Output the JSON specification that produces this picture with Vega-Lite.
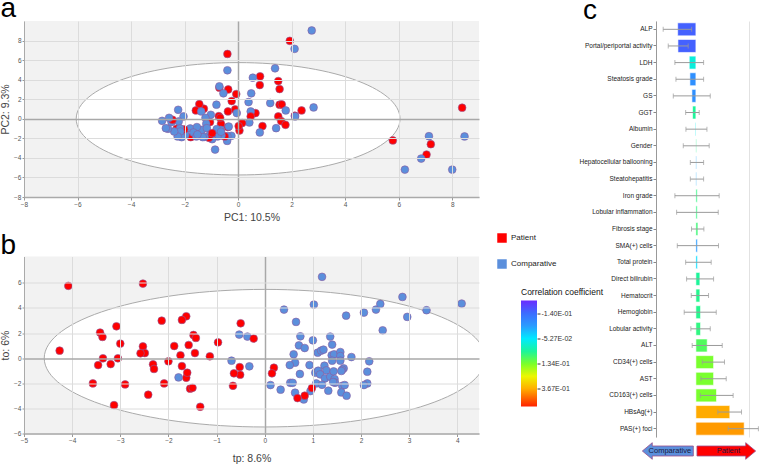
{
"$schema": "https://vega.github.io/schema/vega-lite/v6.json",
"autosize": "none",
"padding": {"left": 24, "top": 21, "right": 736, "bottom": 443},
"background": "white",
"config": {
  "font": "Liberation Sans",
  "view": {"stroke": null},
  "axis": {"labelFont": "Liberation Sans", "titleFont": "Liberation Sans", "titleFontWeight": "normal", "labelColor": "#555555", "titleColor": "#444444", "labelOverlap": false},
  "axisY": {"labelOverlap": false},
  "axisQuantitative": {"labelOverlap": false},
  "title": {"font": "Liberation Sans", "fontWeight": "normal", "color": "#000000"},
  "legend": {"labelFont": "Liberation Sans"}
},
"bounds": "flush",
"spacing": 632,
"hconcat": [
 {
  "bounds": "flush",
  "spacing": 59.5,
  "vconcat": [
   {
    "width": 455, "height": 176,
    "view": {"fill": "#f2f2f2", "stroke": null},
    "title": {"text": "a", "fontSize": 28, "anchor": "start", "frame": "bounds", "offset": 2, "dy": 26.3, "baseline": "alphabetic"},
    "encoding": {
     "x": {"field": "x", "type": "quantitative", "scale": {"domain": [-8, 9], "nice": false, "zero": false},
           "axis": {"values": [-8,-6,-4,-2,0,2,4,6,8], "title": "PC1: 10.5%", "titleFontSize": 10.5, "titlePadding": 5, "labelFontSize": 6.5, "labelPadding": 1, "tickSize": 3, "tickColor": "#999999", "domainColor": "#aaaaaa", "domainWidth": 1.5, "grid": true, "gridColor": {"condition": {"test": "datum.value === 0", "value": "#a8a8a8"}, "value": "#dcdcdc"}, "gridWidth": {"condition": {"test": "datum.value === 0", "value": 1.5}, "value": 1}, "labelFlush": false, "labelOverlap": false, "zindex": 1}},
     "y": {"field": "y", "type": "quantitative", "scale": {"domain": [-8, 10], "nice": false, "zero": false},
           "axis": {"values": [-8,-6,-4,-2,0,2,4,6,8], "title": "PC2: 9.3%", "titleFontSize": 10.5, "titlePadding": 3, "labelFontSize": 6.5, "labelPadding": 1, "tickSize": 2, "tickColor": "#999999", "domainColor": "#aaaaaa", "domainWidth": 1, "grid": true, "gridColor": {"condition": {"test": "datum.value === 0", "value": "#a8a8a8"}, "value": "#dcdcdc"}, "gridWidth": {"condition": {"test": "datum.value === 0", "value": 1.5}, "value": 1}, "labelFlush": false, "labelOverlap": false, "labelSeparation": 0, "zindex": 1}}
    },
    "layer": [
     {
      "data": {"values": [{"x": 0, "y": 0}]},
      "mark": {"type": "point", "shape": "M -1 0 C -1 -0.1917 -0.5523 -0.347 0 -0.347 C 0.5523 -0.347 1 -0.1917 1 0 C 1 0.1917 0.5523 0.347 0 0.347 C -0.5523 0.347 -1 0.1917 -1 0 Z", "size": 104846, "filled": true, "fill": "#ffffff", "stroke": "#aaaaaa", "strokeWidth": 1, "opacity": 1, "clip": true, "zindex": 0}
     },
     {
      "data": {"values": [
{"x":2.75,"y":9.03,"group":"Comparative"},{"x":1.93,"y":7.97,"group":"Patient"},{"x":2.11,"y":7.15,"group":"Comparative"},{"x":-0.40,"y":6.63,"group":"Patient"},
{"x":-0.40,"y":4.96,"group":"Comparative"},{"x":1.38,"y":5.16,"group":"Comparative"},{"x":0.82,"y":4.34,"group":"Patient"},{"x":0.55,"y":4.20,"group":"Comparative"},
{"x":1.50,"y":3.86,"group":"Patient"},{"x":1.55,"y":3.04,"group":"Patient"},{"x":0.81,"y":3.45,"group":"Patient"},{"x":0.49,"y":2.60,"group":"Comparative"},
{"x":-0.07,"y":2.53,"group":"Patient"},{"x":-0.70,"y":3.18,"group":"Patient"},{"x":-0.70,"y":3.32,"group":"Comparative"},{"x":-0.37,"y":3.00,"group":"Patient"},
{"x":-0.55,"y":2.60,"group":"Comparative"},{"x":-0.24,"y":1.81,"group":"Patient"},{"x":0.39,"y":1.71,"group":"Comparative"},{"x":1.20,"y":1.61,"group":"Comparative"},
{"x":1.55,"y":1.44,"group":"Patient"},{"x":1.63,"y":1.47,"group":"Patient"},{"x":1.78,"y":0.85,"group":"Comparative"},{"x":2.37,"y":0.85,"group":"Patient"},
{"x":2.82,"y":1.16,"group":"Comparative"},{"x":2.12,"y":0.31,"group":"Patient"},{"x":2.13,"y":0.24,"group":"Comparative"},{"x":1.50,"y":0.24,"group":"Patient"},
{"x":1.61,"y":-0.24,"group":"Patient"},{"x":1.77,"y":-0.62,"group":"Patient"},{"x":1.42,"y":-0.96,"group":"Comparative"},{"x":0.91,"y":-0.75,"group":"Patient"},
{"x":0.81,"y":-1.40,"group":"Comparative"},{"x":0.65,"y":0.58,"group":"Patient"},{"x":0.47,"y":0.75,"group":"Comparative"},{"x":0.47,"y":0.24,"group":"Patient"},
{"x":0.42,"y":-0.38,"group":"Comparative"},{"x":-0.11,"y":0.96,"group":"Patient"},{"x":-0.05,"y":0.58,"group":"Comparative"},{"x":0.15,"y":-0.44,"group":"Patient"},
{"x":0.05,"y":-1.20,"group":"Patient"},{"x":0.02,"y":-0.75,"group":"Patient"},{"x":-0.38,"y":0.75,"group":"Patient"},{"x":-0.72,"y":0.27,"group":"Patient"},
{"x":-0.64,"y":-0.51,"group":"Patient"},{"x":-0.38,"y":-0.85,"group":"Patient"},{"x":-0.35,"y":-0.79,"group":"Comparative"},{"x":-0.25,"y":-1.74,"group":"Comparative"},
{"x":-0.40,"y":-1.78,"group":"Comparative"},{"x":-0.41,"y":-2.26,"group":"Comparative"},{"x":-0.50,"y":-1.81,"group":"Patient"},{"x":-0.65,"y":-1.13,"group":"Comparative"},
{"x":-0.80,"y":-1.06,"group":"Comparative"},{"x":-0.62,"y":-1.71,"group":"Comparative"},{"x":-0.77,"y":-1.81,"group":"Comparative"},{"x":-0.81,"y":1.44,"group":"Comparative"},
{"x":-1.05,"y":-0.34,"group":"Patient"},{"x":-1.02,"y":0.41,"group":"Comparative"},{"x":-1.22,"y":0.10,"group":"Comparative"},{"x":-1.28,"y":1.03,"group":"Patient"},
{"x":-1.45,"y":1.50,"group":"Patient"},{"x":-1.58,"y":0.85,"group":"Patient"},{"x":-1.38,"y":0.75,"group":"Comparative"},{"x":-1.19,"y":-0.51,"group":"Comparative"},
{"x":-1.42,"y":-1.16,"group":"Patient"},{"x":-1.35,"y":-1.13,"group":"Comparative"},{"x":-1.17,"y":-0.96,"group":"Comparative"},{"x":-0.86,"y":-3.15,"group":"Comparative"},
{"x":-0.97,"y":-2.09,"group":"Comparative"},{"x":-1.05,"y":-1.61,"group":"Comparative"},{"x":-1.09,"y":-1.95,"group":"Patient"},{"x":-1.25,"y":-1.85,"group":"Comparative"},
{"x":-1.62,"y":-1.37,"group":"Comparative"},{"x":-1.77,"y":-1.88,"group":"Patient"},{"x":-1.79,"y":-0.99,"group":"Comparative"},{"x":-1.97,"y":-1.64,"group":"Comparative"},
{"x":-2.02,"y":-1.09,"group":"Patient"},{"x":-2.11,"y":-1.88,"group":"Comparative"},{"x":-2.04,"y":0.24,"group":"Comparative"},{"x":-2.30,"y":-1.03,"group":"Patient"},
{"x":-2.24,"y":0.92,"group":"Comparative"},{"x":-2.22,"y":-0.27,"group":"Comparative"},{"x":-2.17,"y":-0.99,"group":"Comparative"},{"x":-2.16,"y":-1.30,"group":"Comparative"},
{"x":-2.26,"y":-1.81,"group":"Comparative"},{"x":-2.39,"y":-1.30,"group":"Comparative"},{"x":-2.49,"y":-0.34,"group":"Comparative"},{"x":-2.45,"y":-0.10,"group":"Patient"},
{"x":-2.58,"y":0.10,"group":"Comparative"},{"x":-2.62,"y":-1.03,"group":"Comparative"},{"x":-2.70,"y":-0.96,"group":"Comparative"},{"x":-2.84,"y":-0.21,"group":"Comparative"},
{"x":-1.54,"y":-0.85,"group":"Comparative"},{"x":-1.67,"y":-1.40,"group":"Comparative"},{"x":-1.56,"y":-1.81,"group":"Comparative"},{"x":-1.32,"y":-1.88,"group":"Comparative"},
{"x":-1.52,"y":-1.61,"group":"Comparative"},{"x":-0.97,"y":-1.47,"group":"Patient"},{"x":-0.67,"y":0.10,"group":"Patient"},{"x":-0.64,"y":-1.33,"group":"Comparative"},
{"x":5.78,"y":-2.22,"group":"Patient"},{"x":6.23,"y":-5.20,"group":"Comparative"},{"x":7.13,"y":-1.78,"group":"Comparative"},{"x":7.20,"y":-2.60,"group":"Patient"},
{"x":7.04,"y":-3.66,"group":"Patient"},{"x":6.84,"y":-4.07,"group":"Comparative"},{"x":8.00,"y":-5.20,"group":"Comparative"},{"x":8.37,"y":1.13,"group":"Patient"},
{"x":8.46,"y":-1.81,"group":"Comparative"}
      ]},
      "mark": {"type": "circle", "size": 60, "opacity": 1, "stroke": "#8d5a9e", "strokeWidth": 0.6, "zindex": 3},
      "encoding": {
       "color": {"field": "group", "type": "nominal", "scale": {"domain": ["Patient", "Comparative"], "range": ["#ff0000", "#5b8fdc"]},
                 "legend": {"orient": "none", "legendX": 473, "legendY": 212, "title": null, "symbolType": "square", "symbolSize": 90, "symbolStrokeWidth": 0, "labelFontSize": 8, "labelColor": "#222222", "rowPadding": 16, "padding": 0, "labelOffset": 4}}
      }
     }
    ]
   },
   {
    "bounds": "flush",
    "spacing": 42,
    "hconcat": [
     {
      "width": 455, "height": 177,
      "view": {"fill": "#f2f2f2", "stroke": null},
      "title": {"text": "b", "fontSize": 28, "anchor": "start", "frame": "bounds", "offset": 2, "dy": 27.5, "baseline": "alphabetic"},
      "encoding": {
       "x": {"field": "x", "type": "quantitative", "scale": {"domain": [-5, 4.45], "nice": false, "zero": false},
             "axis": {"values": [-5,-4,-3,-2,-1,0,1,2,3,4], "title": "tp: 8.6%", "titleFontSize": 10.5, "titlePadding": 9, "labelFontSize": 6.5, "labelPadding": 1, "tickSize": 3, "tickColor": "#999999", "domainColor": "#aaaaaa", "domainWidth": 1.5, "grid": true, "gridColor": {"condition": {"test": "datum.value === 0", "value": "#a8a8a8"}, "value": "#dcdcdc"}, "gridWidth": {"condition": {"test": "datum.value === 0", "value": 1.5}, "value": 1}, "labelFlush": false, "labelOverlap": false, "zindex": 1}},
       "y": {"field": "y", "type": "quantitative", "scale": {"domain": [-6, 8.1], "nice": false, "zero": false},
             "axis": {"values": [-6,-4,-2,0,2,4,6], "title": "to: 6%", "titleFontSize": 10.5, "titlePadding": 3, "labelFontSize": 6.5, "labelPadding": 1, "tickSize": 2, "tickColor": "#999999", "domainColor": "#aaaaaa", "domainWidth": 1, "grid": true, "gridColor": {"condition": {"test": "datum.value === 0", "value": "#a8a8a8"}, "value": "#dcdcdc"}, "gridWidth": {"condition": {"test": "datum.value === 0", "value": 1.5}, "value": 1}, "labelFlush": false, "labelOverlap": false, "labelSeparation": 0, "zindex": 1}}
      },
      "layer": [
       {
        "data": {"values": [{"x": 0, "y": 0}]},
        "mark": {"type": "point", "shape": "M -1 0 C -1 -0.1723 -0.5523 -0.312 0 -0.312 C 0.5523 -0.312 1 -0.1723 1 0 C 1 0.1723 0.5523 0.312 0 0.312 C -0.5523 0.312 -1 0.1723 -1 0 Z", "size": 194481, "filled": true, "fill": "#ffffff", "stroke": "#aaaaaa", "strokeWidth": 1, "opacity": 1, "clip": true, "zindex": 0}
       },
       {
        "data": {"values": [
{"x":-4.08,"y":5.76,"group":"Patient"},{"x":-2.53,"y":5.94,"group":"Patient"},{"x":-4.26,"y":0.60,"group":"Patient"},{"x":-2.14,"y":2.99,"group":"Patient"},
{"x":-1.63,"y":3.34,"group":"Patient"},{"x":-1.72,"y":3.05,"group":"Patient"},{"x":-3.42,"y":2.04,"group":"Patient"},{"x":-3.37,"y":1.69,"group":"Patient"},
{"x":-3.08,"y":2.54,"group":"Patient"},{"x":-3.00,"y":1.16,"group":"Patient"},{"x":-3.36,"y":-0.01,"group":"Patient"},{"x":-3.05,"y":-0.01,"group":"Patient"},
{"x":-3.46,"y":-0.55,"group":"Patient"},{"x":-3.20,"y":-0.47,"group":"Patient"},{"x":-3.57,"y":-2.01,"group":"Patient"},{"x":-2.90,"y":-2.09,"group":"Patient"},
{"x":-3.13,"y":-3.74,"group":"Patient"},{"x":-2.53,"y":0.94,"group":"Patient"},{"x":-2.49,"y":0.41,"group":"Patient"},{"x":-2.58,"y":0.39,"group":"Patient"},
{"x":-2.32,"y":-0.49,"group":"Patient"},{"x":-2.30,"y":-0.86,"group":"Patient"},{"x":-2.42,"y":-2.91,"group":"Patient"},{"x":-2.09,"y":-2.01,"group":"Patient"},
{"x":-2.00,"y":-0.25,"group":"Patient"},{"x":-1.88,"y":0.97,"group":"Patient"},{"x":-1.75,"y":0.23,"group":"Patient"},{"x":-1.72,"y":-0.63,"group":"Patient"},
{"x":-1.58,"y":1.05,"group":"Patient"},{"x":-1.48,"y":1.85,"group":"Patient"},{"x":-1.43,"y":1.61,"group":"Patient"},{"x":-1.45,"y":0.41,"group":"Patient"},
{"x":-1.63,"y":-1.56,"group":"Patient"},{"x":-1.61,"y":-1.16,"group":"Patient"},{"x":-1.79,"y":-1.53,"group":"Comparative"},{"x":-1.55,"y":-2.43,"group":"Patient"},
{"x":-1.50,"y":-2.36,"group":"Patient"},{"x":-1.34,"y":-3.87,"group":"Patient"},{"x":-1.14,"y":0.15,"group":"Patient"},{"x":-0.97,"y":1.26,"group":"Patient"},
{"x":-0.50,"y":2.78,"group":"Patient"},{"x":-0.53,"y":1.88,"group":"Comparative"},{"x":-0.36,"y":1.72,"group":"Comparative"},{"x":-0.23,"y":1.56,"group":"Patient"},
{"x":-0.69,"y":-0.20,"group":"Comparative"},{"x":-0.32,"y":-0.65,"group":"Comparative"},{"x":-0.52,"y":-0.71,"group":"Patient"},{"x":-0.51,"y":-1.32,"group":"Patient"},
{"x":-0.64,"y":-1.21,"group":"Patient"},{"x":-0.66,"y":-2.20,"group":"Patient"},{"x":0.19,"y":-0.76,"group":"Patient"},{"x":0.15,"y":-1.21,"group":"Patient"},
{"x":1.19,"y":6.48,"group":"Comparative"},{"x":0.40,"y":3.87,"group":"Comparative"},{"x":1.02,"y":4.27,"group":"Comparative"},{"x":0.65,"y":2.89,"group":"Comparative"},
{"x":1.69,"y":3.39,"group":"Comparative"},{"x":2.06,"y":3.63,"group":"Comparative"},{"x":2.31,"y":3.87,"group":"Comparative"},{"x":2.40,"y":4.32,"group":"Comparative"},
{"x":2.86,"y":4.88,"group":"Comparative"},{"x":3.36,"y":3.82,"group":"Comparative"},{"x":4.09,"y":4.35,"group":"Comparative"},{"x":2.96,"y":3.29,"group":"Comparative"},
{"x":2.45,"y":2.22,"group":"Comparative"},{"x":0.74,"y":1.74,"group":"Comparative"},{"x":0.71,"y":1.02,"group":"Comparative"},{"x":0.83,"y":0.81,"group":"Comparative"},
{"x":1.00,"y":1.42,"group":"Comparative"},{"x":1.36,"y":1.72,"group":"Comparative"},{"x":1.40,"y":1.08,"group":"Comparative"},{"x":0.60,"y":0.31,"group":"Comparative"},
{"x":1.10,"y":0.44,"group":"Comparative"},{"x":1.17,"y":0.60,"group":"Comparative"},{"x":1.22,"y":0.68,"group":"Comparative"},{"x":0.63,"y":-0.36,"group":"Comparative"},
{"x":0.52,"y":-0.55,"group":"Comparative"},{"x":0.93,"y":-0.55,"group":"Comparative"},{"x":0.73,"y":-1.26,"group":"Comparative"},{"x":1.39,"y":0.23,"group":"Comparative"},
{"x":1.44,"y":0.31,"group":"Comparative"},{"x":1.57,"y":0.49,"group":"Comparative"},{"x":1.57,"y":0.17,"group":"Comparative"},{"x":1.40,"y":-0.20,"group":"Comparative"},
{"x":1.57,"y":-0.20,"group":"Comparative"},{"x":1.80,"y":0.09,"group":"Comparative"},{"x":2.17,"y":-0.25,"group":"Comparative"},{"x":2.13,"y":-1.08,"group":"Comparative"},
{"x":2.13,"y":-2.01,"group":"Comparative"},{"x":2.06,"y":-2.14,"group":"Comparative"},{"x":1.64,"y":-0.81,"group":"Comparative"},{"x":1.61,"y":-0.92,"group":"Comparative"},
{"x":1.59,"y":-1.02,"group":"Comparative"},{"x":1.24,"y":-0.60,"group":"Comparative"},{"x":1.28,"y":-0.97,"group":"Comparative"},{"x":1.05,"y":-1.16,"group":"Comparative"},
{"x":1.11,"y":-1.00,"group":"Comparative"},{"x":1.15,"y":-1.29,"group":"Comparative"},{"x":1.25,"y":-1.61,"group":"Comparative"},{"x":1.36,"y":-1.48,"group":"Comparative"},
{"x":1.43,"y":-1.05,"group":"Comparative"},{"x":1.45,"y":-1.66,"group":"Comparative"},{"x":1.46,"y":-1.96,"group":"Comparative"},{"x":1.42,"y":-1.90,"group":"Comparative"},
{"x":1.07,"y":-2.01,"group":"Comparative"},{"x":1.19,"y":-2.12,"group":"Comparative"},{"x":1.32,"y":-2.59,"group":"Comparative"},{"x":1.61,"y":-2.20,"group":"Comparative"},
{"x":1.66,"y":-2.14,"group":"Comparative"},{"x":1.59,"y":-2.73,"group":"Comparative"},{"x":1.70,"y":-2.99,"group":"Comparative"},{"x":0.53,"y":-1.96,"group":"Comparative"},
{"x":0.58,"y":-1.96,"group":"Comparative"},{"x":0.12,"y":-2.14,"group":"Comparative"},{"x":0.33,"y":-2.51,"group":"Comparative"},{"x":0.63,"y":-2.75,"group":"Comparative"},
{"x":0.81,"y":-3.29,"group":"Comparative"},{"x":0.95,"y":-2.62,"group":"Comparative"},
{"x":0.98,"y":-2.38,"group":"Patient"},{"x":0.83,"y":-2.99,"group":"Patient"},{"x":0.68,"y":-3.18,"group":"Patient"}
        ]},
        "mark": {"type": "circle", "size": 60, "opacity": 1, "stroke": "#8d5a9e", "strokeWidth": 0.6, "zindex": 3},
        "encoding": {
         "color": {"field": "group", "type": "nominal"}
        }
       }
      ]
     },
     {
      "bounds": "flush",
      "spacing": 9,
      "vconcat": [
       {"data": {"values": []}, "mark": "point", "width": 16, "height": 34.5},
       {
        "width": 16, "height": 106,
        "title": {"text": "Correlation coefficient", "fontSize": 8.5, "anchor": "start", "offset": 4, "frame": "group", "color": "#111111"},
        "layer": [
         {
          "data": {"values": [{"lo": 0, "hi": 1}]},
          "mark": {"type": "rect", "color": {"gradient": "linear", "x1": 0, "y1": 0, "x2": 0, "y2": 1, "stops": [
            {"offset": 0, "color": "#6a2cff"}, {"offset": 0.12, "color": "#3c6cff"}, {"offset": 0.24, "color": "#2a9cff"},
            {"offset": 0.36, "color": "#00eaff"}, {"offset": 0.48, "color": "#1cf59a"}, {"offset": 0.6, "color": "#7dff28"},
            {"offset": 0.715, "color": "#ecf700"}, {"offset": 0.83, "color": "#ffb000"}, {"offset": 1, "color": "#ff2200"}]}},
          "encoding": {
           "y": {"field": "lo", "type": "quantitative", "scale": {"domain": [0, 1], "nice": false}, "axis": null},
           "y2": {"field": "hi"}
          }
         },
         {
          "data": {"values": [{"label": "-1.40E-01"}, {"label": "-5.27E-02"}, {"label": "1.34E-01"}, {"label": "3.67E-01"}]},
          "mark": {"type": "point", "opacity": 0},
          "encoding": {
           "y": {"field": "label", "type": "ordinal", "sort": null, "scale": {"type": "point", "padding": 0.62, "align": 0.42},
                 "axis": {"orient": "right", "title": null, "domain": false, "tickSize": 3, "tickColor": "#333333", "labelFontSize": 7, "labelColor": "#333333", "labelPadding": 1}}
          }
         }
        ],
        "resolve": {"scale": {"y": "independent"}}
       }
      ]
     }
    ]
   }
  ]
 },
 {
  "bounds": "flush",
  "spacing": 5.5,
  "vconcat": [
   {
    "width": 104, "height": 416,
    "title": {"text": "c", "fontSize": 28, "anchor": "start", "frame": "bounds", "offset": 1, "dy": 26.5, "dx": 4, "baseline": "alphabetic"},
    "data": {"values": [
{"v":"ALP","val":-1.37,"lo":-2.46,"hi":-0.32,"coef":-0.15},
{"v":"Portal/periportal activity","val":-1.35,"lo":-2.08,"hi":-0.58,"coef":-0.15},
{"v":"LDH","val":-0.5,"lo":-1.58,"hi":0.58,"coef":-0.02},
{"v":"Steatosis grade","val":-0.45,"lo":-1.5,"hi":0.58,"coef":-0.11},
{"v":"GS","val":-0.3,"lo":-1.7,"hi":1.08,"coef":-0.11},
{"v":"GGT","val":-0.25,"lo":-0.77,"hi":0.25,"coef":0.04},
{"v":"Albumin","val":-0.05,"lo":-0.75,"hi":0.83,"coef":-0.04},
{"v":"Gender","val":0.05,"lo":-0.95,"hi":1.0,"coef":0.05},
{"v":"Hepatocellular ballooning","val":0.05,"lo":-0.42,"hi":0.58,"coef":-0.09},
{"v":"Steatohepatitis","val":0.05,"lo":-0.42,"hi":0.58,"coef":-0.09},
{"v":"Iron grade","val":0.1,"lo":-1.58,"hi":1.75,"coef":0.06},
{"v":"Lobular inflammation","val":0.1,"lo":-1.45,"hi":1.68,"coef":0.06},
{"v":"Fibrosis stage","val":0.15,"lo":-0.33,"hi":0.6,"coef":0.07},
{"v":"SMA(+) cells","val":0.12,"lo":-1.4,"hi":1.7,"coef":-0.1},
{"v":"Total protein","val":0.12,"lo":-0.77,"hi":1.15,"coef":-0.06},
{"v":"Direct bilirubin","val":0.3,"lo":-0.7,"hi":1.33,"coef":0.04},
{"v":"Hematocrit","val":0.3,"lo":-0.35,"hi":0.95,"coef":0.05},
{"v":"Hemoglobin","val":0.35,"lo":-0.88,"hi":1.53,"coef":0.05},
{"v":"Lobular activity","val":0.35,"lo":-0.38,"hi":1.08,"coef":0.06},
{"v":"ALT","val":0.85,"lo":-0.28,"hi":1.98,"coef":0.09},
{"v":"CD34(+) cells","val":1.33,"lo":0.48,"hi":2.15,"coef":0.13},
{"v":"AST","val":1.33,"lo":0.38,"hi":2.28,"coef":0.13},
{"v":"CD163(+) cells","val":1.55,"lo":0.33,"hi":2.8,"coef":0.13},
{"v":"HBsAg(+)","val":2.55,"lo":1.65,"hi":3.43,"coef":0.37},
{"v":"PAS(+) foci","val":3.63,"lo":2.43,"hi":4.7,"coef":0.38}
    ]},
    "encoding": {
     "y": {"field": "v", "type": "nominal", "sort": null, "scale": {"paddingInner": 0.22, "paddingOuter": 0.11},
           "axis": {"title": null, "labelFontSize": 6.5, "labelColor": "#222222", "tickSize": 3, "tickColor": "#888888", "domainColor": "#999999", "labelPadding": 1, "labelLimit": 200}}
    },
    "layer": [
     {
      "mark": {"type": "bar", "stroke": "#ffffff", "strokeWidth": 0.6},
      "encoding": {
       "x": {"field": "val", "type": "quantitative", "scale": {"domain": [-3, 4.82], "nice": false, "zero": false},
             "axis": {"values": [-3,-2,-1,0,1,2,3,4], "labels": false, "ticks": false, "domain": false, "title": null, "grid": true, "gridColor": "#e2e2e2"}},
       "fill": {"field": "coef", "type": "quantitative", "legend": null,
                "scale": {"domain": [-0.2,-0.14,-0.1,-0.0527,0.04,0.134,0.25,0.367,0.45], "range": ["#6a2cff","#3c6cff","#2a9cff","#00eaff","#1cf59a","#7dff28","#ecf700","#ffb000","#ff2200"], "interpolate": "rgb"}}
      }
     },
     {
      "mark": {"type": "rule", "color": "#9a9a9a", "strokeWidth": 1},
      "encoding": {"x": {"field": "lo", "type": "quantitative"}, "x2": {"field": "hi"}}
     },
     {
      "mark": {"type": "tick", "color": "#9a9a9a", "thickness": 1, "size": 5},
      "encoding": {"x": {"field": "lo", "type": "quantitative"}}
     },
     {
      "mark": {"type": "tick", "color": "#9a9a9a", "thickness": 1, "size": 5},
      "encoding": {"x": {"field": "hi", "type": "quantitative"}}
     }
    ]
   },
   {
    "width": 104, "height": 17,
    "data": {"values": [{"group": "Comparative"}, {"group": "Patient"}]},
    "encoding": {
     "x": {"field": "group", "type": "nominal", "scale": {"type": "point", "padding": 0.389, "align": 0.26}, "axis": null}
    },
    "layer": [
     {
      "mark": {"type": "point", "filled": true, "opacity": 1, "stroke": "#9a4f8a", "strokeWidth": 0.8},
      "encoding": {
       "color": {"field": "group", "type": "nominal"},
       "shape": {"field": "group", "type": "nominal", "legend": null, "scale": {"domain": ["Comparative", "Patient"], "range": ["M -1 0 L -0.61 -0.325 L -0.61 -0.196 L 1 -0.196 L 1 0.196 L -0.61 0.196 L -0.61 0.325 Z", "M 1 0 L 0.66 -0.283 L 0.66 -0.17 L -1 -0.17 L -1 0.17 L 0.66 0.17 L 0.66 0.283 Z"]}},
       "size": {"field": "group", "type": "ordinal", "legend": null, "scale": {"domain": ["Comparative", "Patient"], "range": [2601, 3446]}}
      }
     },
     {
      "mark": {"type": "text", "fontSize": 7.5, "color": "#1a1a40", "dx": 2},
      "encoding": {"text": {"field": "group"}}
     }
    ]
   }
  ]
 }
]
}
